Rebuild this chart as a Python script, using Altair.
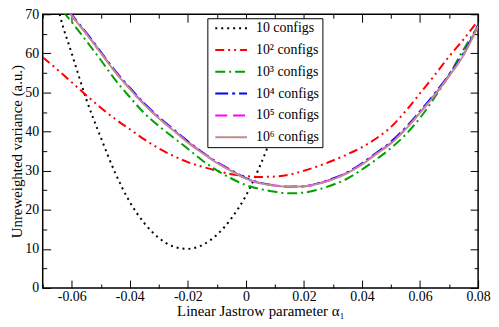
import altair as alt
import pandas as pd

# ---- data ----
series_names = ["10 configs", "10² configs", "10³ configs", "10⁴ configs", "10⁵ configs", "10⁶ configs"]
series_colors = ["#000000", "#ff0000", "#00a000", "#0000ff", "#ff00ff", "#bc8f8f"]
series_dashes = [[2, 4], [9, 4, 2, 4, 2, 4], [10, 4, 2, 4], [13, 4, 3, 4], [12, 6], [1, 0]]

a_black = [-0.066, -0.064, -0.06, -0.055, -0.05, -0.045, -0.04, -0.035, -0.03, -0.025,
           -0.02, -0.015, -0.01, -0.005, 0.0, 0.005, 0.01, 0.015, 0.02]
v_black = [76.0, 69.5, 60.0, 48.3, 38.5, 29.4, 22.0, 16.6, 12.8, 10.6,
           10.0, 11.0, 13.6, 17.8, 23.6, 31.5, 41.0, 51.5, 63.0]

a_red = [-0.07, -0.065, -0.06, -0.055, -0.05, -0.045, -0.04, -0.035, -0.03, -0.025,
         -0.02, -0.015, -0.01, -0.005, 0.0, 0.005, 0.01, 0.015, 0.02, 0.025,
         0.03, 0.035, 0.04, 0.045, 0.05, 0.055, 0.06, 0.065, 0.07, 0.075, 0.08]
v_red = [59.0, 55.9, 52.6, 49.3, 46.1, 43.2, 40.6, 38.0, 35.7, 33.8,
         32.2, 31.0, 30.0, 29.1, 28.6, 28.4, 28.5, 29.0, 30.0, 31.2,
         32.6, 34.2, 36.0, 38.3, 41.2, 45.2, 49.8, 54.4, 59.2, 63.6, 68.4]

a_green = [-0.063, -0.06, -0.055, -0.05, -0.045, -0.04, -0.035, -0.03, -0.025, -0.02,
           -0.015, -0.01, -0.005, 0.0, 0.005, 0.01, 0.015, 0.02, 0.025, 0.03,
           0.035, 0.04, 0.045, 0.05, 0.055, 0.06, 0.065, 0.07, 0.075, 0.08]
v_green = [70.7, 68.0, 63.2, 58.3, 53.2, 48.8, 44.7, 41.4, 38.5, 35.6,
           32.6, 30.1, 28.0, 26.3, 25.3, 24.6, 24.2, 24.4, 25.2, 26.4,
           28.0, 30.3, 32.9, 35.8, 39.2, 43.5, 48.7, 54.5, 61.0, 67.0]

a_blue = [-0.061, -0.06, -0.055, -0.05, -0.045, -0.04, -0.035, -0.03, -0.025, -0.02,
          -0.015, -0.01, -0.005, 0.0, 0.005, 0.01, 0.015, 0.02, 0.025, 0.03,
          0.035, 0.04, 0.045, 0.05, 0.055, 0.06, 0.065, 0.07, 0.075, 0.08]
v_blue = [70.9, 69.9, 65.3, 60.4, 55.5, 51.2, 47.2, 43.7, 40.6, 37.5,
          34.7, 32.2, 30.1, 28.1, 26.9, 26.2, 25.9, 26.0, 26.8, 28.0,
          29.6, 31.9, 34.6, 37.4, 41.0, 45.2, 49.7, 54.6, 60.0, 67.3]

a_magenta = [-0.061, -0.06, -0.055, -0.05, -0.045, -0.04, -0.035, -0.03, -0.025, -0.02,
             -0.015, -0.01, -0.005, 0.0, 0.005, 0.01, 0.015, 0.02, 0.025, 0.03,
             0.035, 0.04, 0.045, 0.05, 0.055, 0.06, 0.065, 0.07, 0.075, 0.08]
v_magenta = [70.7, 69.7, 65.1, 60.2, 55.3, 51.0, 47.0, 43.5, 40.4, 37.3,
             34.6, 32.1, 30.0, 28.0, 26.8, 26.2, 25.9, 26.0, 26.7, 27.9,
             29.5, 31.7, 34.4, 37.1, 40.7, 44.9, 49.4, 54.3, 59.7, 67.1]

a_brown = [-0.061, -0.06, -0.055, -0.05, -0.045, -0.04, -0.035, -0.03, -0.025, -0.02,
           -0.015, -0.01, -0.005, 0.0, 0.005, 0.01, 0.015, 0.02, 0.025, 0.03,
           0.035, 0.04, 0.045, 0.05, 0.055, 0.06, 0.065, 0.07, 0.075, 0.08]
v_brown = [70.6, 69.6, 65.0, 60.1, 55.2, 50.9, 46.9, 43.4, 40.3, 37.2,
           34.5, 32.0, 29.9, 28.0, 26.8, 26.2, 25.9, 26.0, 26.7, 27.8,
           29.4, 31.6, 34.3, 37.0, 40.6, 44.8, 49.3, 54.2, 59.6, 67.0]

x_major = [-0.06, -0.04, -0.02, 0.0, 0.02, 0.04, 0.06, 0.08]
x_minor = [-0.07, -0.05, -0.03, -0.01, 0.01, 0.03, 0.05, 0.07]
y_major = [0, 10, 20, 30, 40, 50, 60, 70]
y_minor = [5, 15, 25, 35, 45, 55, 65]

rows = []
all_a = [a_black, a_red, a_green, a_blue, a_magenta, a_brown]
all_v = [v_black, v_red, v_green, v_blue, v_magenta, v_brown]
for i, (name, xs, ys) in enumerate(zip(series_names, all_a, all_v)):
    for x, y in zip(xs, ys):
        rows.append({"alpha": x, "variance": y, "series": name, "k": i})
df = pd.DataFrame(rows)

FONT = "Liberation Serif"
xscale = alt.Scale(domain=[-0.07, 0.08], nice=False, zero=False)
yscale = alt.Scale(domain=[0, 70], nice=False, zero=False)

legend = alt.Legend(
    title=None, orient="none", legendX=166, legendY=4,
    fillColor="white", strokeColor="black", padding=3, cornerRadius=0,
    symbolType="M-1,0H5.4", symbolSize=100, symbolStrokeWidth=2, symbolOffset=3,
    labelFont=FONT, labelFontSize=14, labelColor="black", labelOffset=29,
    rowPadding=8, zindex=1, labelLimit=300,
)

x_label_expr = ("datum.value == 0 ? '0' : (datum.value < 0 ? '-' : '') + "
                "format(abs(datum.value), '.2f')")

lines = alt.Chart(df).mark_line(clip=True, strokeWidth=2, interpolate="monotone").encode(
    x=alt.X("alpha:Q", scale=xscale, axis=alt.Axis(
        orient="bottom", values=x_major, tickSize=8, offset=-8, labelExpr=x_label_expr,
        labelFont=FONT, labelFontSize=14, labelPadding=2, labelColor="black",
        labelFlush=False, labelOverlap=False,
        title="Linear Jastrow parameter α₁", titleFont=FONT, titleFontSize=15,
        titleFontWeight="normal", titleColor="black", titlePadding=0,
        domain=False, grid=False, tickColor="black", tickWidth=1)),
    y=alt.Y("variance:Q", scale=yscale, axis=alt.Axis(
        orient="left", values=y_major, tickSize=8, offset=-8, format="d",
        labelFont=FONT, labelFontSize=14, labelPadding=4, labelColor="black",
        labelFlush=False, labelOverlap=False,
        title="Unreweighted variance (a.u.)", titleFont=FONT, titleFontSize=15,
        titleFontWeight="normal", titleColor="black", titlePadding=0,
        domain=False, grid=False, tickColor="black", tickWidth=1)),
    color=alt.Color("series:N", scale=alt.Scale(domain=series_names, range=series_colors),
                    legend=legend),
    strokeDash=alt.StrokeDash("series:N", scale=alt.Scale(domain=series_names, range=series_dashes),
                              legend=legend),
    order=alt.Order("alpha:Q"),
)


def tick_axis(orient, values, size):
    return alt.Axis(orient=orient, values=values, tickSize=size, offset=-size, labels=False,
                    domain=False, grid=False, title=None, ticks=True,
                    tickColor="black", tickWidth=1)


def tick_layer(xo, yo, xv, yv, size):
    return alt.Chart(df).mark_point(opacity=0, clip=True).encode(
        x=alt.X("alpha:Q", scale=xscale, axis=tick_axis(xo, xv, size)),
        y=alt.Y("variance:Q", scale=yscale, axis=tick_axis(yo, yv, size)),
    )


chart = alt.layer(
    lines,
    tick_layer("bottom", "left", x_minor, y_minor, 4),
    tick_layer("top", "right", x_major, y_major, 8),
    tick_layer("top", "right", x_minor, y_minor, 4),
).resolve_axis(x="independent", y="independent").properties(
    width=439, height=276,
    padding={"left": 35, "top": 5, "right": 13, "bottom": 36},
    autosize=alt.AutoSizeParams(type="none"),
    background="white",
).configure_view(stroke="black", strokeWidth=1.5)

chart.save("out.html", embed_options={"renderer": "svg", "actions": False})
